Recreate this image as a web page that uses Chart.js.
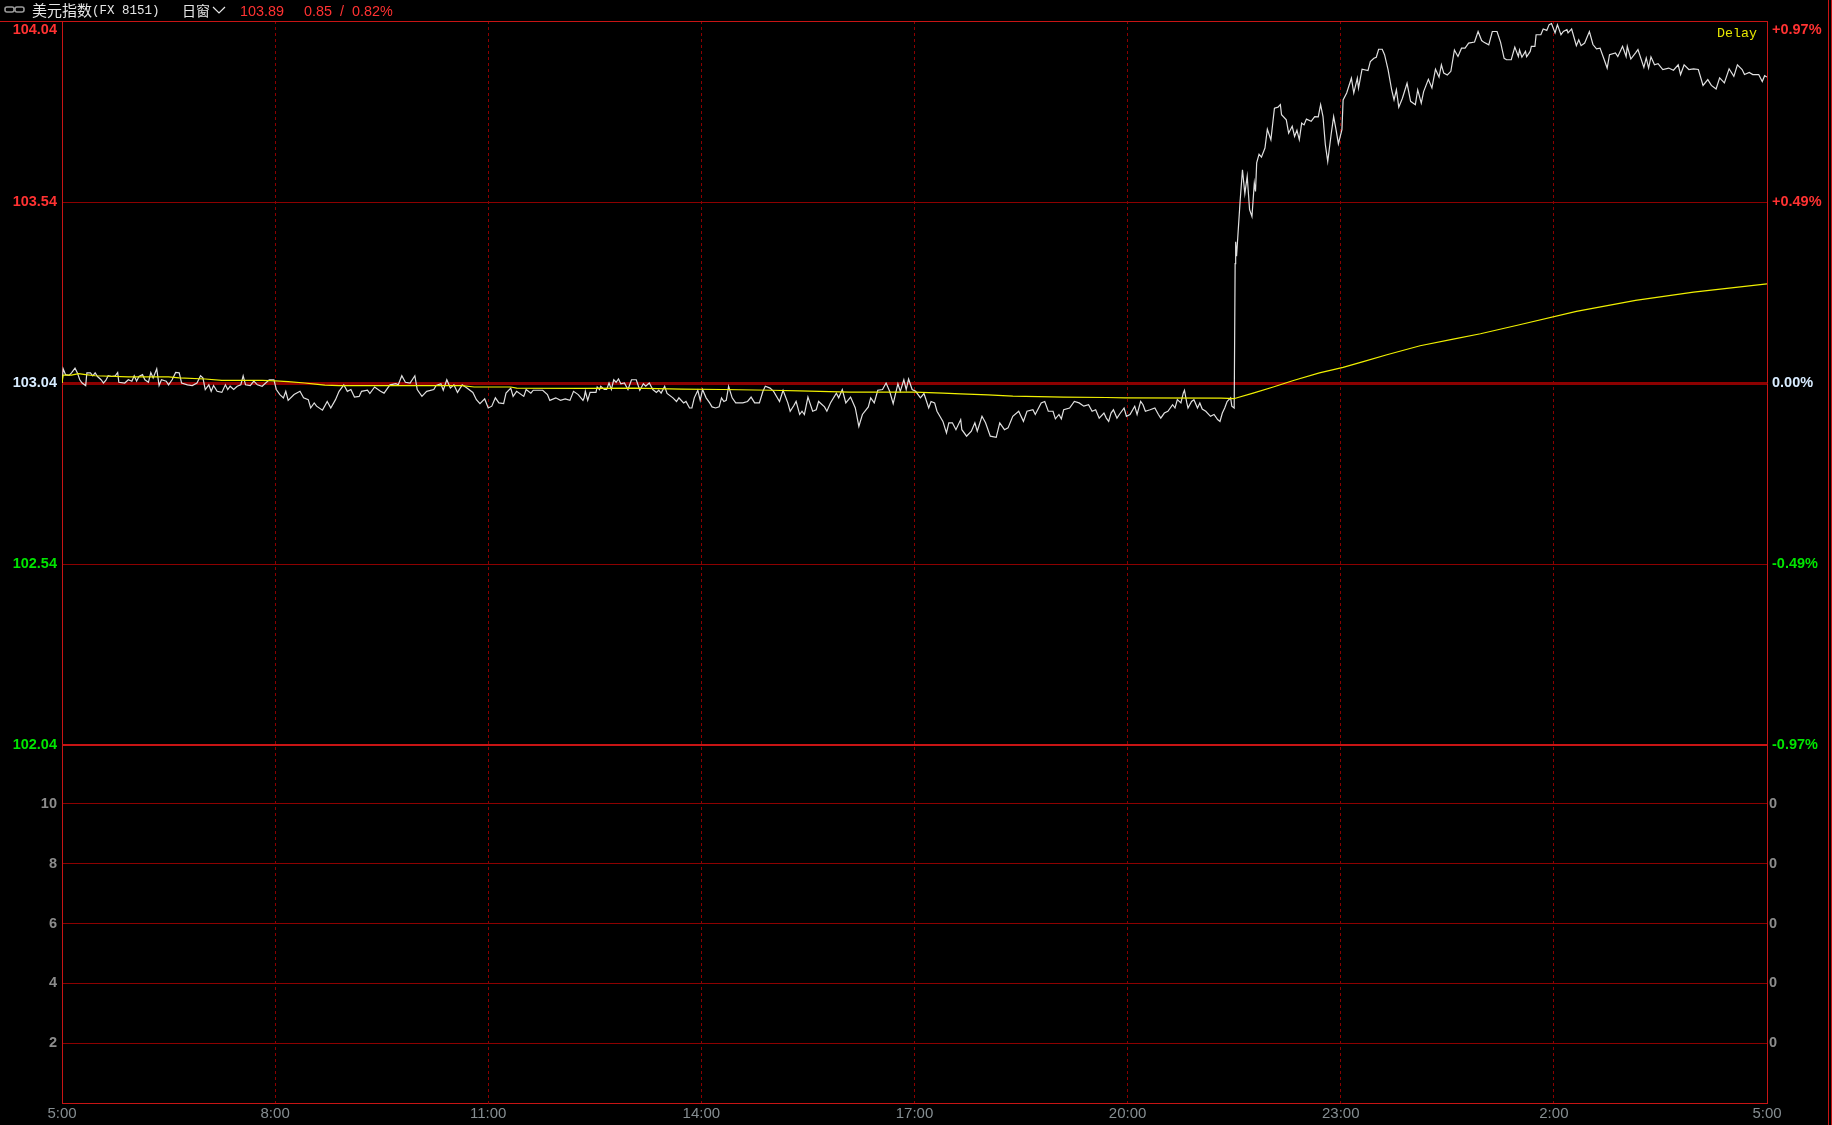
<!DOCTYPE html>
<html>
<head>
<meta charset="utf-8">
<title>美元指数</title>
<script src="https://cdn.jsdelivr.net/npm/chart.js@4/dist/chart.umd.min.js"></script>
<style>
  html, body { margin: 0; background: #000; overflow: hidden; }
  #wrap { position: relative; width: 1832px; height: 1125px; }
  #chart { position: absolute; left: 0; top: 0; }
  .txt { position: absolute; white-space: pre; line-height: 20px; top: 0; }
  .cn { font-family: "Noto Sans CJK SC", sans-serif; font-size: 15px; color: #e6e6e6; }
  .mono { font-family: "Liberation Mono", monospace; font-size: 12.5px; color: #e6e6e6; }
  .num { font-family: "Liberation Sans", sans-serif; font-size: 14.4px; color: #ff3232; }
</style>
</head>
<body>
<div id="wrap">
  <canvas id="chart" width="1832" height="1125"></canvas>
  <div style="position:absolute;left:0;top:21px;width:62px;height:1px;background:#c81414"></div>
  <div style="position:absolute;left:1828px;top:0;width:2px;height:1125px;border-left:1px solid #c81414;border-right:1px solid #c81414"></div>
  <svg style="position:absolute;left:4px;top:5px" width="22" height="10">
    <rect x="1" y="2" width="9" height="5" rx="2" fill="none" stroke="#9a9a9a" stroke-width="1.6"/>
    <rect x="11" y="2" width="9" height="5" rx="2" fill="none" stroke="#9a9a9a" stroke-width="1.6"/>
  </svg>
  <span class="txt cn" style="left:32px">美元指数</span>
  <span class="txt mono" style="left:92px;top:1px">(FX 8151)</span>
  <span class="txt cn" style="left:182px;font-size:14px">日窗</span>
  <svg style="position:absolute;left:212px;top:6px" width="14" height="9">
    <polyline points="1,1 7,7 13,1" fill="none" stroke="#e6e6e6" stroke-width="1.2"/>
  </svg>
  <span class="txt num" style="left:240px;top:1px">103.89</span>
  <span class="txt num" style="left:304px;top:1px;word-spacing:4px">0.85 / 0.82%</span>
  <span class="txt" style="left:1717px;top:24px;font-family:'Liberation Mono',monospace;font-size:13.3px;color:#e6e600">Delay</span>
</div>
<script>
// time axis is minutes since 5:00
const hourTicks = [0, 180, 360, 540, 720, 900, 1080, 1260, 1440];
const hourLabels = ['5:00', '8:00', '11:00', '14:00', '17:00', '20:00', '23:00', '2:00', '5:00'];

const priceTicks = [104.04, 103.54, 103.04, 102.54, 102.04];
const priceLabels = ['104.04', '103.54', '103.04', '102.54', '102.04'];
const pctLabels = ['+0.97%', '+0.49%', '0.00%', '-0.49%', '-0.97%'];
const volumeTicks = [10, 8, 6, 4, 2];

// last price
const morningTimes = [0,1,3,6,8,11,13,15,17,20,21,24,26,28,30,33,35,37,39,42,45,47,48,53,56,59,61,63,65,68,70,73,75,77,80,82,84,88,90,93,96,99,101,106,110,114,117,119,121,124,126,128,131,135,138,140,142,145,148,151,153,155,159,162,165,169,175,179,181,184,187,189,191,196,201,204,208,210,213,215,220,224,227,231,234,238,241,244,247,251,253,258,260,264,269,272,275,277,282,284,287,290,294,298,300,304,308,314,316,320,322,325,328,331,334,338,342,347,350,353,357,360,363,366,369,373,375,379,381,384,390,392,396,398,406,410,412,417,421,425,429,432,436,440];
const morningPrices = [103.04,103.079,103.063,103.061,103.068,103.081,103.068,103.049,103.04,103.033,103.068,103.068,103.06,103.068,103.058,103.049,103.04,103.047,103.06,103.058,103.06,103.069,103.042,103.04,103.049,103.045,103.06,103.045,103.058,103.063,103.049,103.042,103.069,103.054,103.079,103.033,103.049,103.045,103.035,103.049,103.069,103.068,103.04,103.035,103.033,103.04,103.06,103.054,103.022,103.035,103.017,103.033,103.017,103.014,103.035,103.022,103.031,103.022,103.031,103.035,103.06,103.035,103.033,103.045,103.035,103.031,103.049,103.049,103.022,103.008,102.999,103.017,102.992,103.008,103.017,102.999,102.994,102.971,102.985,102.976,102.965,102.989,102.971,102.994,103.017,103.035,103.017,103.022,103.001,103.003,103.017,103.02,103.011,103.029,103.017,103.012,103.026,103.035,103.038,103.035,103.06,103.042,103.04,103.06,103.022,103.003,103.017,103.022,103.033,103.038,103.02,103.049,103.026,103.035,103.014,103.035,103.026,103.014,102.994,102.983,102.996,102.971,102.976,102.999,102.985,102.983,103.012,103.026,103.003,103.017,103.003,103.022,103.012,103.02,103.02,103.008,102.992,102.999,102.992,102.996,102.992,103.017,103.008,102.992];

const middayTimes = [441,442,444,446,451,452,454,455,458,460,462,464,466,468,470,472,475,478,481,485,488,491,493,496,499,502,504,506,509,511,516,519,521,525,527,530,532,534,537,539,541,544,547,549,552,555,557,559,561,563,566,569,572,575,579,582,585,589,592,594,598,601,606,609,613,615,618,620,623,625,627,630,634,637,639,644,646,649,654,656,659,662,666,670,673,676,681,683,686,689,693,696,699,702,706,708,711,713,715,718,721,725,728,732,734,737,739,744,747,749,752,755,759,760,764,768,771,773,777,780,784,789,792,796,799,803,808,812,815,820,822,827,830,833,837,839,842,844,846,851,855,859,863,867,870,873,876,880];
const middayPrices = [102.999,103.017,102.992,103.014,103.014,103.029,103.022,103.031,103.022,103.022,103.04,103.022,103.049,103.042,103.051,103.038,103.04,103.022,103.049,103.049,103.02,103.038,103.031,103.04,103.022,103.014,103.02,103.012,103.031,103.011,102.999,102.989,102.999,102.985,102.989,102.971,102.971,102.999,103.02,102.992,103.022,102.999,102.985,102.974,102.971,102.974,102.999,102.989,102.992,103.031,102.999,102.985,102.985,102.985,102.989,103.001,102.985,102.985,103.017,103.031,103.026,103.017,102.989,103.02,102.985,102.962,102.977,102.989,102.953,102.962,102.953,103.001,102.962,102.966,102.989,102.974,102.962,102.985,103.012,102.999,103.022,102.985,103.001,102.971,102.92,102.953,102.974,102.999,102.985,103.02,103.022,103.04,103.017,102.983,103.038,103.017,103.049,103.022,103.051,103.022,103.017,102.999,103.011,102.971,102.989,102.985,102.962,102.934,102.902,102.93,102.93,102.911,102.939,102.911,102.893,102.907,102.93,102.907,102.948,102.93,102.893,102.89,102.93,102.911,102.916,102.948,102.962,102.934,102.962,102.966,102.953,102.985,102.989,102.962,102.962,102.941,102.953,102.941,102.966,102.971,102.989,102.985,102.976,102.98,102.962,102.966,102.943,102.957];

const eveningTimes = [882,884,886,888,891,893,897,899,902,906,908,911,913,915,919,923,926,928,931,934,938,940,942,945,947,948,950,951,954,956,959,961,963,966,970,973,976,978,980,982,984,987,988,990];
const eveningPrices = [102.943,102.934,102.957,102.966,102.943,102.953,102.971,102.948,102.953,102.976,102.953,102.989,102.98,102.962,102.966,102.971,102.953,102.943,102.957,102.962,102.98,102.971,102.994,102.985,103.012,103.02,102.985,102.971,102.989,102.994,102.971,102.985,102.968,102.962,102.948,102.953,102.939,102.934,102.957,102.971,102.989,102.999,102.976,102.971];

// the jump around 21:30
const jumpTimes = [990.8,991,991.5,992,993,995,997,999,1001,1003,1005,1007,1008,1009,1011,1013,1016,1018,1021,1024,1027,1029,1030,1034,1036,1039,1041,1043,1045,1047,1049,1051,1055,1058,1061,1063,1065,1067,1069,1072,1074,1076,1078,1081,1082,1085,1089,1091,1094,1095,1098];
const jumpPrices = [103.37,103.39,103.43,103.39,103.441,103.542,103.629,103.563,103.611,103.519,103.5,103.592,103.569,103.648,103.672,103.664,103.689,103.741,103.712,103.799,103.802,103.809,103.781,103.767,103.73,103.749,103.721,103.738,103.712,103.758,103.753,103.769,103.763,103.776,103.775,103.809,103.776,103.698,103.652,103.73,103.776,103.74,103.701,103.74,103.822,103.841,103.882,103.841,103.882,103.855,103.907];

const nightTimes = [1103,1105,1108,1110,1112,1115,1117,1120,1123,1125,1127,1129,1132,1136,1139,1143,1145,1148,1150,1154,1157,1160,1163,1165,1167,1170,1173,1176,1179,1182,1185,1188,1193,1196,1199,1201,1205,1208,1212,1215,1218,1220,1224,1227,1230,1231,1233,1236,1237,1240,1241,1244,1245,1249,1251,1254,1256,1258,1261,1263,1266,1268,1271,1272,1275,1279,1281,1283,1286,1290,1293,1296,1299,1302,1305,1307,1312,1314,1318,1321,1322,1325,1329,1331,1336,1338,1340,1342,1345,1348,1352,1357,1361,1365,1367,1370,1374,1378,1382,1386,1390,1393,1397,1400,1404,1408,1412,1415,1419,1421,1425,1428,1433,1436,1438,1440];
const nightPrices = [103.903,103.928,103.937,103.94,103.962,103.962,103.947,103.905,103.85,103.822,103.85,103.802,103.826,103.868,103.818,103.809,103.85,103.813,103.845,103.879,103.855,103.907,103.885,103.919,103.896,103.891,103.901,103.96,103.942,103.965,103.965,103.979,103.982,104.011,103.986,103.981,103.974,104.011,104.011,103.981,103.937,103.933,103.933,103.968,103.942,103.96,103.94,103.956,103.941,103.956,103.97,103.97,104.002,104.002,104.018,104.014,104.03,104.033,104.007,104.03,104.002,104.011,104.016,104.007,104.018,103.972,103.988,103.972,103.979,104.011,103.975,103.963,103.965,103.938,103.91,103.947,103.952,103.942,103.97,103.942,103.97,103.935,103.952,103.961,103.912,103.938,103.91,103.941,103.919,103.922,103.906,103.91,103.904,103.919,103.892,103.919,103.906,103.908,103.906,103.862,103.878,103.862,103.852,103.883,103.869,103.908,103.887,103.919,103.906,103.892,103.898,103.892,103.892,103.873,103.889,103.885];

// average line
const averageTimes = [0,1,8,14,20,28,56,90,99,121,135,169,180,191,205,214,222,234,338,348,379,384,440,483,523,558,599,623,665,720,744,759,782,803,846,882,898,979,990,991,1006,1023,1040,1062,1082,1099,1119,1147,1175,1198,1231,1279,1329,1378,1440];
const averagePrices = [103.04,103.062,103.062,103.066,103.063,103.06,103.057,103.057,103.054,103.051,103.047,103.047,103.046,103.044,103.04,103.037,103.034,103.033,103.033,103.029,103.029,103.026,103.025,103.026,103.023,103.022,103.02,103.018,103.015,103.015,103.012,103.01,103.007,103.004,103.001,103,102.999,102.998,102.997,102.998,103.012,103.029,103.047,103.068,103.083,103.099,103.118,103.143,103.161,103.176,103.201,103.238,103.268,103.291,103.314];

const lastTimes = morningTimes.concat(middayTimes, eveningTimes, jumpTimes, nightTimes);
const lastPrices = morningPrices.concat(middayPrices, eveningPrices, jumpPrices, nightPrices);

const toPoints = (xs, ys) => xs.map((x, i) => ({ x, y: ys[i] }));

const RED = '#c81414';
const DARK_RED = '#8c0000';
const FONT = '"Liberation Sans", Arial, sans-serif';
const boldFont = { family: FONT, size: 14.5, weight: 'bold', lineHeight: 1.3 };

function priceColor(value) {
  if (value > 103.04) return '#ff3232';
  if (value < 103.04) return '#00e600';
  return '#d8ecff';
}

// fixed axis width, and no room reserved for the end labels
function fixWidth(w) {
  return scale => {
    scale.width = w;
    scale.paddingTop = 0;
    scale.paddingBottom = 0;
  };
}

function topLabel(text, value) {
  // top label sits under its line, a blank first row pushes it down
  return value === 104.04 ? ['', text] : text;
}

new Chart(document.getElementById('chart'), {
  type: 'line',
  data: {
    datasets: [
      {
        label: '均价',
        data: toPoints(averageTimes, averagePrices),
        borderColor: '#f0f000',
        borderWidth: 1.2,
        pointRadius: 0,
        tension: 0,
        xAxisID: 'x',
        yAxisID: 'y'
      },
      {
        label: '美元指数',
        data: toPoints(lastTimes, lastPrices),
        borderColor: '#e0e0e0',
        borderWidth: 1.2,
        pointRadius: 0,
        tension: 0,
        xAxisID: 'x',
        yAxisID: 'y'
      }
    ]
  },
  options: {
    responsive: false,
    animation: false,
    events: [],
    layout: { autoPadding: false, padding: { top: 21, left: 0, right: 0, bottom: 0 } },
    plugins: { legend: { display: false }, tooltip: { enabled: false } },
    scales: {
      x: {
        type: 'linear',
        min: 0,
        max: 1440,
        afterBuildTicks: s => { s.ticks = hourTicks.map(value => ({ value })); },
        afterFit: s => { s.height = 22; },
        ticks: {
          autoSkip: false,
          maxRotation: 0,
          padding: 2,
          color: '#858d91',
          font: { family: FONT, size: 15 },
          callback: v => hourLabels[hourTicks.indexOf(v)]
        },
        border: { color: RED, width: 1, dash: [3, 3] },
        grid: {
          drawTicks: false,
          color: ctx => (ctx.tick && (ctx.tick.value === 0 || ctx.tick.value === 1440)) ? 'transparent' : DARK_RED
        }
      },
      y: {
        position: 'left',
        stack: 'left',
        stackWeight: 724,
        weight: 2,
        min: 102.04,
        max: 104.04,
        afterBuildTicks: s => { s.ticks = priceTicks.map(value => ({ value })); },
        afterFit: fixWidth(62),
        ticks: {
          autoSkip: false,
          padding: 5,
          color: ctx => priceColor(ctx.tick.value),
          font: boldFont,
          callback: v => topLabel(priceLabels[priceTicks.indexOf(v)], v)
        },
        border: { color: RED, width: 1 },
        grid: {
          drawTicks: false,
          color: ctx => (ctx.tick && (ctx.tick.value === 102.04 || ctx.tick.value === 104.04)) ? RED : DARK_RED,
          lineWidth: ctx => {
            if (!ctx.tick) return 1;
            if (ctx.tick.value === 103.04) return 3;
            if (ctx.tick.value === 102.04) return 2;
            return 1;
          }
        }
      },
      volume: {
        position: 'left',
        stack: 'left',
        stackWeight: 358,
        weight: 1,
        min: 0,
        max: 11.97,
        afterBuildTicks: s => { s.ticks = volumeTicks.map(value => ({ value })); },
        afterFit: fixWidth(62),
        ticks: {
          autoSkip: false,
          padding: 5,
          color: '#8c8c8c',
          font: boldFont
        },
        border: { color: RED, width: 1 },
        grid: { drawTicks: false, color: DARK_RED, lineWidth: 1 }
      },
      pct: {
        position: 'right',
        stack: 'right',
        stackWeight: 724,
        weight: 1,
        min: 102.04,
        max: 104.04,
        afterBuildTicks: s => { s.ticks = priceTicks.map(value => ({ value })); },
        afterFit: fixWidth(65),
        ticks: {
          autoSkip: false,
          padding: 5,
          color: ctx => priceColor(ctx.tick.value),
          font: boldFont,
          callback: v => topLabel(pctLabels[priceTicks.indexOf(v)], v)
        },
        border: { color: RED, width: 1 },
        grid: { display: false, drawTicks: false }
      },
      volumeRight: {
        position: 'right',
        stack: 'right',
        stackWeight: 358,
        weight: 2,
        min: 0,
        max: 11.97,
        afterBuildTicks: s => { s.ticks = volumeTicks.map(value => ({ value })); },
        afterFit: fixWidth(65),
        ticks: {
          autoSkip: false,
          padding: 2,
          color: '#8c8c8c',
          font: boldFont,
          callback: () => '0'
        },
        border: { color: RED, width: 1 },
        grid: { display: false, drawTicks: false }
      }
    }
  }
});
</script>
</body>
</html>
